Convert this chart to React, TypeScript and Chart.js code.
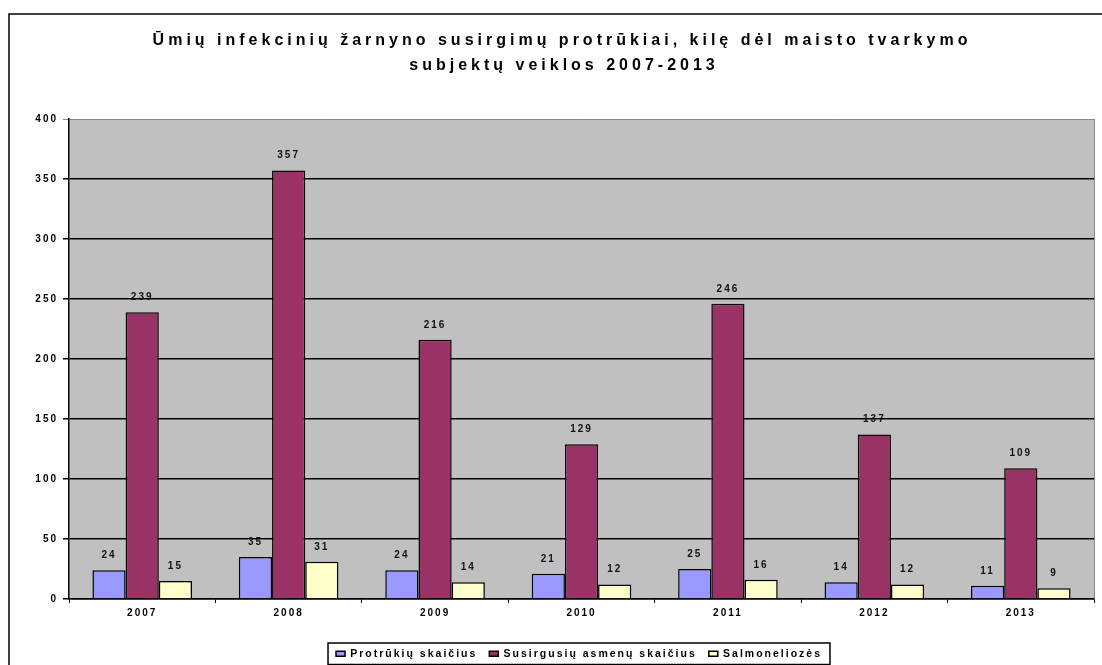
import { useEffect, useRef } from 'react';
import { Chart, registerables } from 'chart.js';

Chart.register(...registerables);

const TITLE_LINES = [
  'Ūmių infekcinių žarnyno susirgimų protrūkiai, kilę dėl maisto tvarkymo',
  'subjektų veiklos 2007-2013',
];
const YEARS = ['2007', '2008', '2009', '2010', '2011', '2012', '2013'];
const OUTBREAKS = [24, 35, 24, 21, 25, 14, 11];
const CASES = [239, 357, 216, 129, 246, 137, 109];
const SALMONELLOSIS = [15, 31, 14, 12, 16, 12, 9];
const SERIES_NAMES = ['Protrūkių skaičius', 'Susirgusių asmenų skaičius', 'Salmoneliozės'];
const SERIES_COLORS = ['#9999FF', '#993366', '#FFFFCC'];
const Y_MIN = 0;
const Y_MAX = 400;
const Y_STEP = 50;

const FONT = "'Liberation Sans', Arial, sans-serif";
const LEGEND_SHIFT_X = 32;

const framePlugin = {
  id: 'frame',
  beforeUpdate(chart: any) {
    chart.ctx.letterSpacing = '2px';
  },
  afterLayout(chart: any) {
    const lg = chart.legend;
    if (lg) {
      lg.left += LEGEND_SHIFT_X;
      lg.right += LEGEND_SHIFT_X;
    }
  },
  beforeDraw(chart: any) {
    const { ctx, chartArea } = chart;
    ctx.save();
    ctx.fillStyle = '#ffffff';
    ctx.fillRect(0, 0, chart.width, chart.height);
    ctx.fillStyle = '#C0C0C0';
    ctx.fillRect(chartArea.left, chartArea.top, chartArea.right - chartArea.left, chartArea.bottom - chartArea.top);
    ctx.strokeStyle = '#000';
    ctx.lineWidth = 1.5;
    ctx.strokeRect(9, 14, chart.width + 20, chart.height + 20);
    ctx.restore();
    ctx.letterSpacing = '2px';
  },
  afterDatasetsDraw(chart: any) {
    const { ctx } = chart;
    ctx.save();
    ctx.font = `bold 10px ${FONT}`;
    ctx.letterSpacing = '2px';
    ctx.fillStyle = '#111';
    ctx.textAlign = 'center';
    ctx.textBaseline = 'middle';
    chart.data.datasets.forEach((ds: any, i: number) => {
      const meta = chart.getDatasetMeta(i);
      meta.data.forEach((el: any, j: number) => {
        ctx.fillText(String(ds.data[j]), el.x, el.y - 15);
      });
    });
    ctx.restore();
  },
  afterDraw(chart: any) {
    const { ctx, chartArea } = chart;
    ctx.save();
    // plot right border
    ctx.strokeStyle = '#888';
    ctx.lineWidth = 1;
    ctx.beginPath();
    ctx.moveTo(chartArea.right + 0.5, chartArea.top);
    ctx.lineTo(chartArea.right + 0.5, chartArea.bottom);
    ctx.stroke();
    // title
    ctx.fillStyle = '#000';
    ctx.font = `bold 16px ${FONT}`;
    ctx.letterSpacing = '4px';
    ctx.textAlign = 'center';
    ctx.textBaseline = 'middle';
    ctx.fillText(TITLE_LINES[0], 562, 41);
    ctx.fillText(TITLE_LINES[1], 564, 66);
    // legend border
    const boxes = chart.legend?.legendHitBoxes || [];
    if (boxes.length) {
      const left = Math.min(...boxes.map((b: any) => b.left)) - 8;
      const right = Math.max(...boxes.map((b: any) => b.left + b.width)) + 8;
      const top = Math.min(...boxes.map((b: any) => b.top)) - 5.5;
      const bottom = Math.max(...boxes.map((b: any) => b.top + b.height)) + 5.5;
      ctx.strokeStyle = '#000';
      ctx.lineWidth = 1.5;
      ctx.strokeRect(left, top, right - left, bottom - top);
    }
    ctx.restore();
  },
};

export default function App() {
  const canvasRef = useRef<HTMLCanvasElement | null>(null);

  useEffect(() => {
    const canvas = canvasRef.current;
    if (!canvas) return;
    const datasetValues = [OUTBREAKS, CASES, SALMONELLOSIS];
    const chart = new Chart(canvas, {
      type: 'bar',
      data: {
        labels: YEARS,
        datasets: datasetValues.map((vals, i) => ({
          label: SERIES_NAMES[i],
          data: vals,
          backgroundColor: SERIES_COLORS[i],
          borderColor: '#000',
          borderWidth: 1.5,
          categoryPercentage: 0.68,
          barPercentage: 1.0,
        })),
      },
      options: {
        responsive: false,
        animation: false,
        devicePixelRatio: 1,
        layout: { padding: { top: 119, right: 8, left: 0, bottom: -4 } },
        plugins: {
          title: { display: false },
          tooltip: { enabled: false },
          legend: {
            display: true,
            position: 'bottom',
            labels: {
              color: '#000',
              font: { family: FONT, size: 10.5, weight: 'bold' },
              boxWidth: 9,
              boxHeight: 5,
              padding: 12,
            },
          },
        },
        scales: {
          x: {
            afterFit(scale: any) {
              scale.height = 37.5;
            },
            grid: {
              offset: true,
              drawOnChartArea: false,
              drawTicks: true,
              tickLength: 4,
              color: '#000',
              lineWidth: 1,
            },
            border: { display: true, color: '#000', width: 1.5 },
            ticks: {
              color: '#000',
              font: { family: FONT, size: 10, weight: 'bold' },
              padding: 4,
            },
          },
          y: {
            min: Y_MIN,
            max: Y_MAX,
            afterFit(scale: any) {
              scale.width = 69;
            },
            ticks: {
              stepSize: Y_STEP,
              color: '#000',
              font: { family: FONT, size: 10, weight: 'bold' },
              padding: 5,
            },
            grid: {
              color: (c: any) => (c.tick && c.tick.value === Y_MAX ? '#888' : '#000'),
              lineWidth: (c: any) => (c.tick && c.tick.value === Y_MAX ? 1 : 1.5),
              tickLength: 6,
              drawTicks: true,
            },
            border: { display: true, color: '#000', width: 1.5 },
          },
        },
      },
      plugins: [framePlugin],
    } as any);
    return () => chart.destroy();
  }, []);

  return (
    <div style={{ position: 'fixed', left: 0, top: 0, width: 1102, height: 665, background: '#fff' }}>
      <canvas ref={canvasRef} width={1102} height={665} style={{ display: 'block' }} />
    </div>
  );
}
